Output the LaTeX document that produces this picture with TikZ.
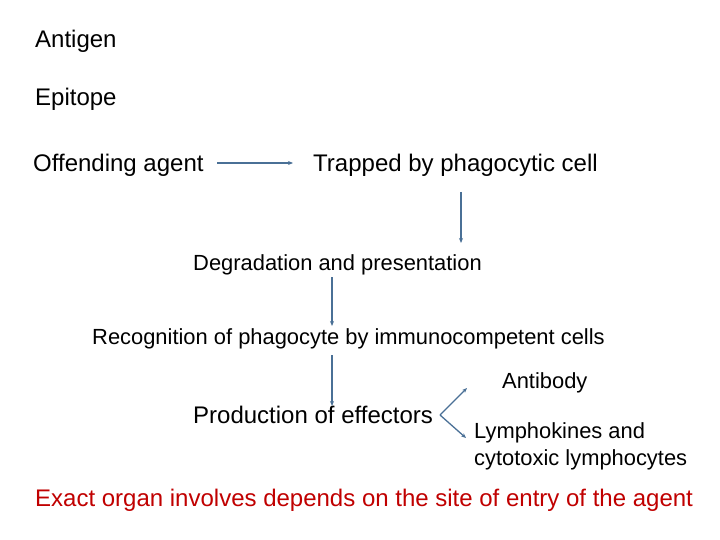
\documentclass[tikz,border=0pt]{standalone}
\usepackage{fontspec}
\setmainfont{Liberation Sans}
\usetikzlibrary{arrows.meta}
\begin{document}
\begin{tikzpicture}[x=1pt,y=-1pt,
  t/.style={font=\fontsize{24}{28}\selectfont,inner sep=0pt,anchor=west},
  s/.style={font=\fontsize{21.9}{27}\selectfont,inner sep=0pt,anchor=west},
  ar/.style={draw={rgb,255:red,74;green,112;blue,150},line width=1.3pt,-{Stealth[length=5pt,width=4pt]}}]
\useasboundingbox (0,0) rectangle (720,540);
\node[t] (ag) at (35,41) {Antigen};
\node[t] (ep) at (35,99) {Epitope};
\node[t] (off) at (33,165) {Offending agent};
\node[t] (tr) at (313,165) {Trapped by phagocytic cell};
\node[s] (deg) at (193,265) {Degradation and presentation};
\node[s] (rec) at (92,339) {Recognition of phagocyte by immunocompetent cells};
\node[s] (ab) at (502,383) {Antibody};
\node[t] (pr) at (193,415) {Production of effectors};
\node[s,align=left] (ly) at (474,446) {Lymphokines and\\cytotoxic lymphocytes};
\node[t,text={rgb,255:red,192;green,0;blue,0}] (ex) at (35,500) {Exact organ involves depends on the site of entry of the agent};
\coordinate (a1) at (217,163); \coordinate (a2) at (293,163);
\coordinate (b1) at (461,192); \coordinate (b2) at (461,243);
\coordinate (c1) at (332,277); \coordinate (c2) at (332,326);
\coordinate (d1) at (332,355); \coordinate (d2) at (332,406);
\coordinate (v) at (440,415); \coordinate (e1) at (467,388); \coordinate (e2) at (466,438);
\draw[ar] (a1) -- (a2);
\draw[ar] (b1) -- (b2);
\draw[ar] (c1) -- (c2);
\draw[ar] (d1) -- (d2);
\draw[ar] (v) -- (e1);
\draw[ar] (v) -- (e2);
\end{tikzpicture}
\end{document}
